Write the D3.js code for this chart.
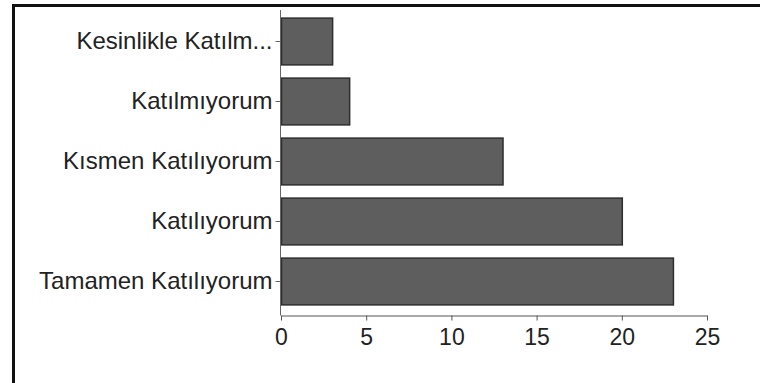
<!DOCTYPE html>
<html>
<head>
<meta charset="utf-8">
<script src="https://cdn.jsdelivr.net/npm/d3@7/dist/d3.min.js"></script>
<style>
html,body{margin:0;padding:0;background:#fff;}
svg{display:block;}
text{font-family:"Liberation Sans",Arial,Helvetica,sans-serif;fill:#222;}
</style>
</head>
<body>
<svg id="chart" width="760" height="383"></svg>
<script>
const categories = ["Kesinlikle Katılm...", "Katılmıyorum", "Kısmen Katılıyorum", "Katılıyorum", "Tamamen Katılıyorum"];
const values = [3, 4, 13, 20, 23];
const xTicks = [0, 5, 10, 15, 20, 25];

const svg = d3.select("#chart");

// frame (left and top only)
svg.append("path")
  .attr("d", "M13.5,383 L13.5,5.5 L760,5.5")
  .attr("fill", "none").attr("stroke", "#111").attr("stroke-width", 3);

const x = d3.scaleLinear().domain([0, 25]).range([281, 707]);
const y = d3.scaleBand().domain(categories).range([11.5, 311.5]).paddingInner(0.22).paddingOuter(0.11);

const axisY = 315;
const axisX = 280.5;

// bars
svg.append("g").selectAll("rect").data(values).join("rect")
  .attr("x", x(0) + 0.5)
  .attr("y", (d, i) => y(categories[i]))
  .attr("width", d => x(d) - x(0))
  .attr("height", y.bandwidth())
  .attr("fill", "#5e5e5e")
  .attr("stroke", "#2e2e2e")
  .attr("stroke-width", 1.5);

// x axis
const gx = svg.append("g").attr("transform", `translate(0,${axisY + 0.5})`)
  .call(d3.axisBottom(x).tickValues(xTicks).tickSize(5).tickSizeOuter(0).tickPadding(8));
gx.select(".domain").attr("stroke", "#555");
gx.selectAll(".tick line").attr("stroke", "#555");
gx.selectAll("text").style("font-size", "23px").attr("fill", "#222");

// y axis
const gy = svg.append("g").attr("transform", `translate(${axisX},0)`)
  .call(d3.axisLeft(y).tickSize(5).tickSizeOuter(0).tickPadding(3));
gy.select(".domain").remove();
gy.append("line").attr("x1", 0).attr("x2", 0).attr("y1", 10).attr("y2", axisY + 0.5)
  .attr("stroke", "#666").attr("stroke-width", 1);
gy.selectAll(".tick line").attr("stroke", "#666");
gy.selectAll("text").style("font-size", "24px").attr("fill", "#222");
</script>
</body>
</html>
